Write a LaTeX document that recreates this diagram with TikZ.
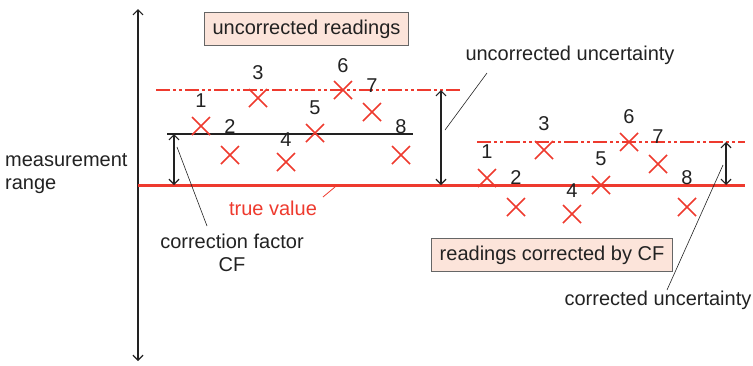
\documentclass[tikz,border=0pt]{standalone}
\usepackage{fontspec}
\setmainfont{Liberation Sans}
\usetikzlibrary{arrows.meta}
\definecolor{myred}{HTML}{EE3A2E}
\definecolor{boxfill}{HTML}{FCE4DA}
\definecolor{ink}{HTML}{222222}
\begin{document}
\begin{tikzpicture}[x=1pt,y=-1pt,
  every node/.style={font=\fontsize{20}{23}\selectfont, text=ink, inner sep=0pt},
  xmark/.style={draw=myred, line width=1.5pt},
  dashline/.style={draw=myred, line width=2pt, dash pattern=on 14pt off 3pt on 3pt off 3pt on 3pt off 3pt},
  dimarrow/.style={draw=ink, line width=1.2pt, {Straight Barb[length=5pt,width=10pt]}-{Straight Barb[length=5pt,width=10pt]}},
  callout/.style={draw=ink, line width=0.6pt},
  titlebox/.style={draw=black!60, fill=boxfill, line width=0.8pt, inner xsep=8pt, inner ysep=7pt}
]
\useasboundingbox (0,0) rectangle (753,365);
% axis
\coordinate (axtop) at (138,9);
\coordinate (axbot) at (138,361);
\draw[dimarrow] (axtop) -- (axbot);
\node[align=left, anchor=west] (mr) at (5,174) {measurement\\range};
% boxes
\node[titlebox] (b1) at (306.5,29) {uncorrected readings};
\node[titlebox] (b2) at (552,255) {readings corrected by CF};
% true value line
\coordinate (tvL) at (138,185.5);
\coordinate (tvR) at (745,185.5);
\draw[myred, line width=3.5pt] (tvL) -- (tvR);
% left lines
\coordinate (dl1) at (156,89.5);
\coordinate (dl2) at (460,89.5);
\draw[dashline] (dl1) -- (dl2);
\coordinate (bl1) at (167,134);
\coordinate (bl2) at (413,134);
\draw[ink, line width=1.4pt] (bl1) -- (bl2);
% right dashed line
\coordinate (dr1) at (477,142);
\coordinate (dr2) at (745,142);
\draw[dashline] (dr1) -- (dr2);
% dimension arrows
\coordinate (cfT) at (174,134); \coordinate (cfB) at (174,185);
\draw[dimarrow] (cfT) -- (cfB);
\coordinate (uuT) at (441,90); \coordinate (uuB) at (441,185);
\draw[dimarrow] (uuT) -- (uuB);
\coordinate (cuT) at (726,142); \coordinate (cuB) at (726,185);
\draw[dimarrow] (cuT) -- (cuB);
% crosses
\foreach \i/\x/\y/\ly in {1/201/126/101, 2/230/155/127, 3/258/98/73, 4/286/162/140, 5/315/133/108, 6/343/90/66, 7/372/112/86, 8/401/155/127}{
  \draw[xmark] (\x-9,\y-9) -- (\x+9,\y+9) (\x-9,\y+9) -- (\x+9,\y-9);
  \node (nl\i) at (\x,\ly) {\i};
  \pgfmathsetmacro{\xr}{\x+286}
  \pgfmathsetmacro{\yr}{\y+52}
  \pgfmathsetmacro{\lyr}{\ly+51}
  \draw[xmark] (\xr-9,\yr-9) -- (\xr+9,\yr+9) (\xr-9,\yr+9) -- (\xr+9,\yr-9);
  \node (nr\i) at (\xr,\lyr) {\i};
}
% callouts
\node (uu) at (570,55) {uncorrected uncertainty};
\coordinate (uuc1) at (445,130); \coordinate (uuc2) at (487,73);
\draw[callout] (uuc1) -- (uuc2);
\node[align=center] (cf) at (232,253) {correction factor\\CF};
\coordinate (cfc1) at (177,147); \coordinate (cfc2) at (207,226);
\draw[callout] (cfc1) -- (cfc2);
\node[text=myred] (tv) at (273,208) {true value};
\coordinate (tvc1) at (323,197); \coordinate (tvc2) at (335,187);
\draw[myred, line width=0.8pt] (tvc1) -- (tvc2);
\node (cu) at (658,300) {corrected uncertainty};
\coordinate (cuc1) at (723,165); \coordinate (cuc2) at (667,290);
\draw[callout] (cuc1) -- (cuc2);
\end{tikzpicture}
\end{document}
